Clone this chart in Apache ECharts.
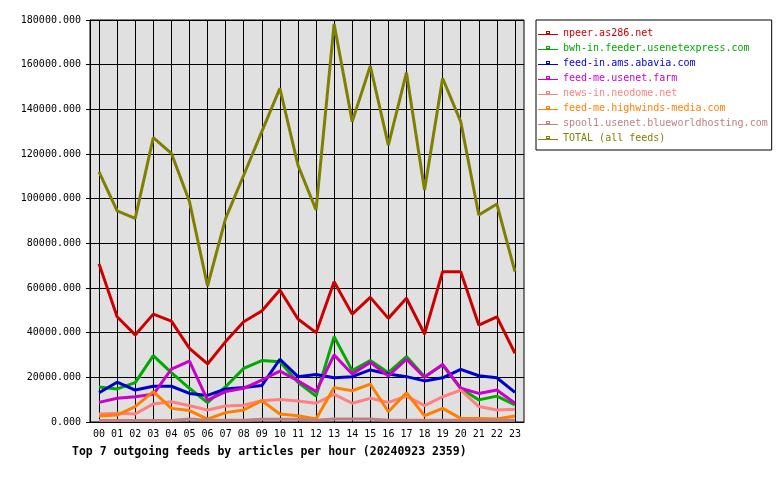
<!DOCTYPE html>
<html><head><meta charset="utf-8">
<script src="https://cdn.jsdelivr.net/npm/echarts@6/dist/echarts.min.js"></script>
<style>html,body{margin:0;padding:0;background:#fff}#c{width:780px;height:480px}</style>
</head><body><div id="c"></div>
<script>
const hours = ['00','01','02','03','04','05','06','07','08','09','10','11','12','13','14','15','16','17','18','19','20','21','22','23'];
const seriesNames = ['npeer.as286.net','bwh-in.feeder.usenetexpress.com','feed-in.ams.abavia.com','feed-me.usenet.farm','news-in.neodome.net','feed-me.highwinds-media.com','spool1.usenet.blueworldhosting.com','TOTAL (all feeds)'];
const npeer = [70800,47100,39000,48300,45200,33000,26000,36000,44900,49700,59100,46100,40000,62800,48300,55800,46400,55400,39400,67300,67300,43400,47100,30800];
const bwhIn = [15700,14800,17600,29700,22100,15100,8700,15800,24000,27500,27000,17800,11600,38200,23000,27500,22100,29300,20300,25500,15100,9900,11600,7600];
const abavia = [13100,17800,14300,16000,16000,12800,11900,14800,15500,16300,28100,20300,21300,19800,20300,23300,21500,20300,18400,19800,23600,20700,19800,13300];
const usenetFarm = [8800,10600,11300,12400,23700,27300,9800,13600,15100,18800,22800,18500,13600,30000,21500,26700,20600,28100,20000,25800,15100,12800,14300,8400];
const neodome = [3600,3900,3600,8100,9100,7300,5400,7200,7500,9500,10100,9400,8400,12400,8400,10600,8800,11600,7300,11300,14300,6900,5400,5700];
const highwinds = [2700,3100,6900,13600,6100,5100,1300,4200,5400,9500,3600,2800,1300,15400,14000,17000,4600,13100,2800,6100,1600,1600,1300,2700];
const spool1 = [700,700,700,700,700,1300,800,800,800,1200,1200,1200,800,1300,1300,1300,800,800,800,800,800,800,800,800];
const total = [112000,94500,91200,127300,120300,98700,60900,91200,110500,130000,149400,115000,94900,178200,134500,159400,124000,156400,103900,153900,134500,92700,97600,67300];
const yTicks = {min:0, max:180000, step:20000};

const values = [npeer,bwhIn,abavia,usenetFarm,neodome,highwinds,spool1,total];
const colors = ['#cc0000','#00aa00','#0000cc','#cc00cc','#ff8080','#ff8000','#c08080','#808000'];
const mono = 'DejaVu Sans Mono';

const chart = echarts.init(document.getElementById('c'), null, {renderer:'canvas'});
chart.setOption({
  animation:false,
  backgroundColor:'#fff',
  title:{text:'Top 7 outgoing feeds by articles per hour (20240923 2359)', left:72, top:445, padding:0,
    textStyle:{fontFamily:mono, fontSize:11.5, fontWeight:'bold', color:'#000', lineHeight:14}},
  legend:{orient:'vertical', left:536, top:20, padding:[7,4,6,2],
    itemWidth:20, itemHeight:5, itemGap:3,
    icon:'path://M0,4L20,4L20,5L0,5Z M8,1L12,1L12,4L8,4Z M9,2L9,3L11,3L11,2Z',
    itemStyle:{borderWidth:0},
    borderColor:'#000', borderWidth:1, backgroundColor:'#fff', selectedMode:false,
    textStyle:{fontFamily:mono, fontSize:10, lineHeight:12},
    data:seriesNames.map((n,i)=>({name:n, textStyle:{color:colors[i]}}))},
  grid:[
    {left:90, top:20, width:434, height:402, show:true, backgroundColor:'#e0e0e0', borderColor:'#000', borderWidth:1},
    {left:99.04, top:20, width:415.92, height:402, show:false}
  ],
  xAxis:[
    {type:'category', gridIndex:0, data:hours, boundaryGap:true,
      axisLine:{lineStyle:{color:'#000', width:1}},
      axisTick:{alignWithLabel:true, length:4, interval:0, lineStyle:{color:'#000'}},
      axisLabel:{fontFamily:mono, fontSize:10, color:'#000', margin:7, interval:0},
      splitLine:{show:false}},
    {type:'category', gridIndex:1, data:hours, boundaryGap:false, z:1,
      axisLine:{show:false}, axisTick:{show:false}, axisLabel:{show:false},
      splitLine:{show:true, interval:0, lineStyle:{color:'#000', width:1}}}
  ],
  yAxis:[
    {type:'value', gridIndex:0, min:yTicks.min, max:yTicks.max, interval:yTicks.step,
      axisLine:{show:true, lineStyle:{color:'#000'}},
      axisTick:{show:true, length:4, lineStyle:{color:'#000'}},
      axisLabel:{fontFamily:mono, fontSize:10, color:'#000', margin:9, formatter:v=>v.toFixed(3)},
      splitLine:{show:true, lineStyle:{color:'#000', width:1}}},
    {type:'value', gridIndex:1, min:yTicks.min, max:yTicks.max, show:false, splitLine:{show:false}}
  ],
  series:seriesNames.map((n,i)=>({
    name:n, type:'line', xAxisIndex:0, yAxisIndex:0, data:values[i],
    symbol:'emptyRect', showSymbol:false, silent:true,
    lineStyle:{width:3, color:colors[i]}, itemStyle:{color:colors[i]},
    emphasis:{disabled:true}
  }))
});
</script></body></html>
